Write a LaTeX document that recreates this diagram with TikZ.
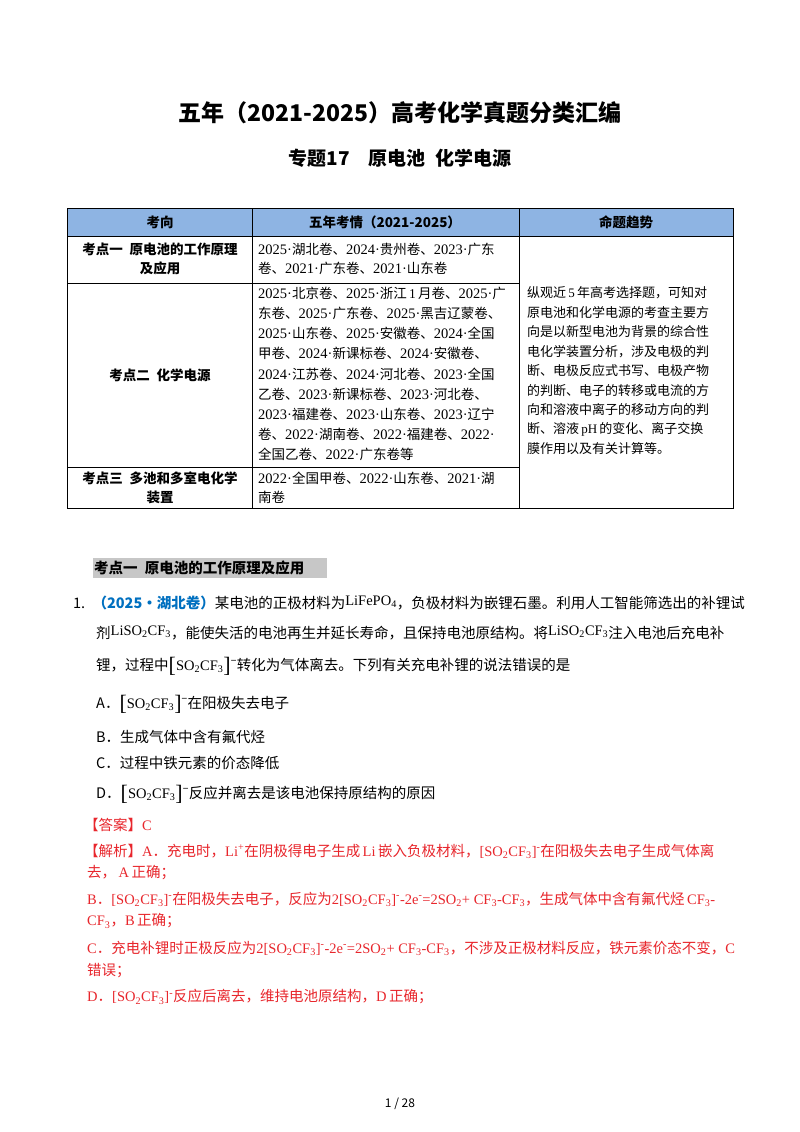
\documentclass[tikz,border=0pt]{standalone}
\usepackage{fontspec}
\setmainfont{Noto Sans CJK SC}
\newfontfamily\lat{Liberation Serif}
\definecolor{hdr}{HTML}{8EB4E3}
\definecolor{qblue}{HTML}{0070C0}
\definecolor{ared}{HTML}{E8262C}
\newcommand{\sbs}[1]{\textsubscript{#1}}
\newcommand{\sps}[1]{\textsuperscript{#1}}
\newcommand{\Y}[1]{{\lat\fontsize{14.5}{15}\selectfont #1·}}
\newcommand{\ion}{{\lat\fontsize{22}{22}\selectfont\raisebox{-2pt}{[}}{\lat SO\sbs{2}CF\sbs{3}}{\lat\fontsize{22}{22}\selectfont\raisebox{-2pt}{]}}\sps{−}}
\newcommand{\ionr}{{\lat [SO\sbs{2}CF\sbs{3}]\sps{-}}}
\begin{document}
\begin{tikzpicture}[x=1pt,y=-1pt,
  t/.style={anchor=west,inner sep=0pt,font=\fontsize{13.5}{15}\selectfont},
  tc/.style={anchor=center,inner sep=0pt,font=\fontsize{13.5}{15}\selectfont\bfseries},
  th/.style={anchor=center,inner sep=0pt,font=\fontsize{13.5}{15}\selectfont\bfseries},
  q/.style={anchor=west,inner sep=0pt,font=\fontsize{14.5}{16}\selectfont},
  r/.style={anchor=west,inner sep=0pt,text=ared,font=\fontsize{14.5}{16}\selectfont},
  grid/.style={draw=black,line width=0.7pt}]
\useasboundingbox[fill=white] (0,0) rectangle (800,1132);
% titles
\node[anchor=center,inner sep=0pt,font=\fontsize{23}{26}\selectfont\bfseries] (title) at (400,113) {五年（2021-2025）高考化学真题分类汇编};
\node[anchor=center,inner sep=0pt,font=\fontsize{19}{22}\selectfont\bfseries] (sub) at (400,158) {专题17\quad 原电池\enspace 化学电源};
% table
\fill[hdr] (67,208) rectangle (733,236);
\draw[grid] (67,208) rectangle (733,508);
\draw[grid] (67,236) -- (733,236);
\draw[grid] (67,283) -- (519,283);
\draw[grid] (67,467) -- (519,467);
\draw[grid] (252,208) -- (252,508);
\draw[grid] (519,208) -- (519,508);
\node[th] (h1) at (160,222) {考向};
\node[th] (h2) at (385,222) {五年考情（2021-2025）};
\node[th] (h3) at (626,222) {命题趋势};
\node[tc] (a1) at (160,249) {考点一\enspace 原电池的工作原理};
\node[tc] (a2) at (160,268) {及应用};
\node[tc] (b1) at (160,375) {考点二\enspace 化学电源};
\node[tc] (c1) at (160,478) {考点三\enspace 多池和多室电化学};
\node[tc] (c2) at (160,497) {装置};
\node[t] (r11) at (258,249) {\Y{2025}湖北卷、\Y{2024}贵州卷、\Y{2023}广东};
\node[t] (r12) at (258,268) {卷、\Y{2021}广东卷、\Y{2021}山东卷};
\foreach \i/\s in {0/{\Y{2025}北京卷、\Y{2025}浙江{\lat\,1\,}月卷、\Y{2025}广},
 1/{东卷、\Y{2025}广东卷、\Y{2025}黑吉辽蒙卷、},
 2/{\Y{2025}山东卷、\Y{2025}安徽卷、\Y{2024}全国},
 3/{甲卷、\Y{2024}新课标卷、\Y{2024}安徽卷、},
 4/{\Y{2024}江苏卷、\Y{2024}河北卷、\Y{2023}全国},
 5/{乙卷、\Y{2023}新课标卷、\Y{2023}河北卷、},
 6/{\Y{2023}福建卷、\Y{2023}山东卷、\Y{2023}辽宁},
 7/{卷、\Y{2022}湖南卷、\Y{2022}福建卷、\Y{2022}},
 8/{全国乙卷、\Y{2022}广东卷等}}
 \node[t] (r2\i) at (258,{293+20.2*\i}) {\s};
\node[t] (r31) at (258,478) {\Y{2022}全国甲卷、\Y{2022}山东卷、\Y{2021}湖};
\node[t] (r32) at (258,497) {南卷};
\foreach \i/\s in {0/{纵观近{\lat\,5\,}年高考选择题，可知对},
 1/{原电池和化学电源的考查主要方},
 2/{向是以新型电池为背景的综合性},
 3/{电化学装置分析，涉及电极的判},
 4/{断、电极反应式书写、电极产物},
 5/{的判断、电子的转移或电流的方},
 6/{向和溶液中离子的移动方向的判},
 7/{断、溶液{\lat\,pH\,}的变化、离子交换},
 8/{膜作用以及有关计算等。}}
 \node[t,font=\fontsize{13}{15}\selectfont] (m\i) at (527,{293+19.5*\i}) {\s};
% section heading
\fill[black!22] (93,558) rectangle (327,578);
\node[anchor=west,inner sep=0pt,font=\fontsize{14.5}{16}\selectfont\bfseries] (sec) at (94,568) {考点一\enspace 原电池的工作原理及应用};
% question
\node[q] (q1) at (73,603) {1.\enspace\textcolor{qblue}{\bfseries（2025·湖北卷）}某电池的正极材料为\raisebox{3pt}{\lat LiFePO\sbs{4}}，负极材料为嵌锂石墨。利用人工智能筛选出的补锂试};
\node[q] (q2) at (96,633) {剂\raisebox{3pt}{\lat LiSO\sbs{2}CF\sbs{3}}，能使失活的电池再生并延长寿命，且保持电池原结构。将\raisebox{3pt}{\lat LiSO\sbs{2}CF\sbs{3}}注入电池后充电补};
\node[q] (q3) at (96,666) {锂，过程中\ion 转化为气体离去。下列有关充电补锂的说法错误的是};
\node[q] (qa) at (96,704) {A．\ion 在阳极失去电子};
\node[q] (qb) at (96,737) {B．生成气体中含有氟代烃};
\node[q] (qc) at (96,763) {C．过程中铁元素的价态降低};
\node[q] (qd) at (96,794) {D．\ion 反应并离去是该电池保持原结构的原因};
% answer
\node[r] (an) at (84,825) {【答案】{\lat C}};
\node[r] (e1) at (84,851) {【解析】{\lat A}．充电时，{\lat Li\sps{+}}在阴极得电子生成{\lat\,Li\,}嵌入负极材料，\ionr 在阳极失去电子生成气体离};
\node[r] (e2) at (87,873) {去，{\lat\,A\,}正确；};
\node[r] (e3) at (87,899) {{\lat B}．\ionr 在阳极失去电子，反应为{\lat 2[SO\sbs{2}CF\sbs{3}]\sps{-}-2e\sps{-}=2SO\sbs{2}+ CF\sbs{3}-CF\sbs{3}}，生成气体中含有氟代烃{\lat\,CF\sbs{3}-}};
\node[r] (e4) at (87,921) {{\lat CF\sbs{3}}，{\lat B\,}正确；};
\node[r] (e5) at (87,948) {{\lat C}．充电补锂时正极反应为{\lat 2[SO\sbs{2}CF\sbs{3}]\sps{-}-2e\sps{-}=2SO\sbs{2}+ CF\sbs{3}-CF\sbs{3}}，不涉及正极材料反应，铁元素价态不变，{\lat C}};
\node[r] (e6) at (87,971) {错误；};
\node[r] (e7) at (87,997) {{\lat D}．\ionr 反应后离去，维持电池原结构，{\lat D\,}正确；};
\node[anchor=center,inner sep=0pt,font=\fontsize{12}{14}\selectfont] (pg) at (400,1104) {1\ /\ 28};
\end{tikzpicture}
\end{document}
